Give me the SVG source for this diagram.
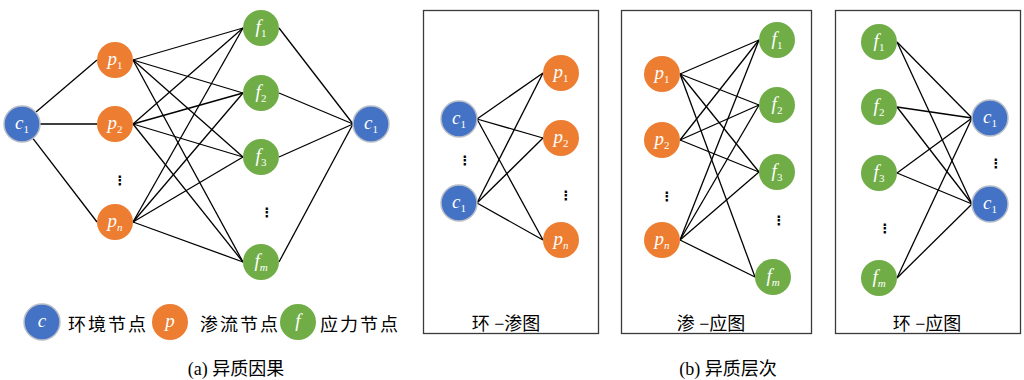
<svg xmlns="http://www.w3.org/2000/svg" width="1024" height="380" viewBox="0 0 1024 380">
<style>
.bg{fill:#ffffff}
.c{fill:#4472C4;stroke:#b9bec8;stroke-width:1.5}
.p{fill:#ED7D31}
.f{fill:#70AD47}
.lbl{font-family:"Liberation Serif",serif;font-style:italic;font-size:19px;fill:#ffffff;text-anchor:middle}
.sub{font-style:normal;font-size:11px}
.subi{font-style:italic;font-size:11px}
.edge line{stroke:#000000;stroke-width:1.3}
.box{fill:none;stroke:#3a3a3a;stroke-width:1.3}
.dots{font-family:"DejaVu Sans",sans-serif;font-size:13px;fill:#000000;text-anchor:middle;font-weight:bold}
.cjk{font-family:"Liberation Serif","Noto Sans CJK SC",serif;font-size:18px;fill:#000000}
.title{font-family:"Liberation Serif","Noto Sans CJK SC",serif;font-size:18px;fill:#000000;text-anchor:middle}
</style>
<rect class="bg" x="0" y="0" width="1024" height="380"/>

<!-- panel (a) connectors -->
<g id="edges-a" class="edge">
<line x1="35.7" y1="112.3" x2="97" y2="60"/>
<line x1="40" y1="124" x2="97" y2="124"/>
<line x1="32.9" y1="138.3" x2="97" y2="222"/>
<line x1="133" y1="60" x2="243" y2="28"/>
<line x1="133" y1="60" x2="243" y2="93"/>
<line x1="133" y1="60" x2="243" y2="157"/>
<line x1="133" y1="60" x2="243" y2="262"/>
<line x1="133" y1="124" x2="243" y2="28"/>
<line x1="133" y1="124" x2="243" y2="93"/>
<line x1="133" y1="124" x2="243" y2="157"/>
<line x1="133" y1="124" x2="243" y2="262"/>
<line x1="133" y1="222" x2="243" y2="28"/>
<line x1="133" y1="222" x2="243" y2="93"/>
<line x1="133" y1="222" x2="243" y2="157"/>
<line x1="133" y1="222" x2="243" y2="262"/>
<line x1="279" y1="28" x2="353" y2="124"/>
<line x1="279" y1="93" x2="353" y2="124"/>
<line x1="279" y1="157" x2="353" y2="124"/>
<line x1="279" y1="262" x2="353" y2="124"/>
</g>

<!-- panel (a) nodes -->
<g id="a-c1-left"><circle class="c" cx="22" cy="124" r="18"/><text class="lbl" x="22" y="129">c<tspan class="sub" dy="4">1</tspan></text></g>
<g id="a-p1"><circle class="p" cx="115" cy="60" r="18"/><text class="lbl" x="115" y="65">p<tspan class="sub" dy="4">1</tspan></text></g>
<g id="a-p2"><circle class="p" cx="115" cy="124" r="18"/><text class="lbl" x="115" y="129">p<tspan class="sub" dy="4">2</tspan></text></g>
<g id="a-pn"><circle class="p" cx="115" cy="222" r="18"/><text class="lbl" x="115" y="227">p<tspan class="subi" dy="4">n</tspan></text></g>
<g id="a-f1"><circle class="f" cx="261" cy="28" r="18"/><text class="lbl" x="261" y="33">f<tspan class="sub" dy="4">1</tspan></text></g>
<g id="a-f2"><circle class="f" cx="261" cy="93" r="18"/><text class="lbl" x="261" y="98">f<tspan class="sub" dy="4">2</tspan></text></g>
<g id="a-f3"><circle class="f" cx="261" cy="157" r="18"/><text class="lbl" x="261" y="162">f<tspan class="sub" dy="4">3</tspan></text></g>
<g id="a-fm"><circle class="f" cx="261" cy="262" r="18"/><text class="lbl" x="261" y="267">f<tspan class="subi" dy="4">m</tspan></text></g>
<g id="a-c1-right"><circle class="c" cx="371" cy="124" r="18"/><text class="lbl" x="371" y="129">c<tspan class="sub" dy="4">1</tspan></text></g>
<g id="a-dots"><text class="dots" x="120" y="185">⋮</text><text class="dots" x="267" y="217">⋮</text></g>

<!-- legend -->
<g id="legend">
<circle class="c" cx="42" cy="322" r="18"/><text class="lbl" x="42" y="327">c</text>
<text class="cjk" x="68" y="331" letter-spacing="2">环境节点</text>
<circle class="p" cx="170" cy="322" r="18"/><text class="lbl" x="170" y="327">p</text>
<text class="cjk" x="200" y="331" letter-spacing="2">渗流节点</text>
<circle class="f" cx="298" cy="322" r="18"/><text class="lbl" x="298" y="327">f</text>
<text class="cjk" x="320" y="331" letter-spacing="2">应力节点</text>
</g>
<text class="title" x="236" y="375">(a) 异质因果</text>

<!-- panel (b1) 环-渗图 -->
<g id="box1"><rect class="box" x="423.5" y="10.5" width="175" height="323"/><text class="title" x="506" y="330">环 −渗图</text></g>
<g id="edges-b1" class="edge">
<line x1="477" y1="119" x2="543" y2="73"/>
<line x1="477" y1="119" x2="543" y2="138"/>
<line x1="477" y1="119" x2="543" y2="240"/>
<line x1="477" y1="203" x2="543" y2="73"/>
<line x1="477" y1="203" x2="543" y2="138"/>
<line x1="477" y1="203" x2="543" y2="240"/>
</g>
<g id="b1-c1-top"><circle class="c" cx="459" cy="119" r="18"/><text class="lbl" x="459" y="124">c<tspan class="sub" dy="4">1</tspan></text></g>
<g id="b1-c1-bottom"><circle class="c" cx="459" cy="203" r="18"/><text class="lbl" x="459" y="208">c<tspan class="sub" dy="4">1</tspan></text></g>
<g id="b1-p1"><circle class="p" cx="561" cy="73" r="18"/><text class="lbl" x="561" y="78">p<tspan class="sub" dy="4">1</tspan></text></g>
<g id="b1-p2"><circle class="p" cx="561" cy="138" r="18"/><text class="lbl" x="561" y="143">p<tspan class="sub" dy="4">2</tspan></text></g>
<g id="b1-pn"><circle class="p" cx="561" cy="240" r="18"/><text class="lbl" x="561" y="245">p<tspan class="subi" dy="4">n</tspan></text></g>
<g id="b1-dots"><text class="dots" x="465" y="165">⋮</text><text class="dots" x="566" y="200">⋮</text></g>

<!-- panel (b2) 渗-应图 -->
<g id="box2"><rect class="box" x="621.5" y="10.5" width="190" height="323"/><text class="title" x="711" y="330">渗 −应图</text></g>
<g id="edges-b2" class="edge">
<line x1="680" y1="74" x2="759" y2="40"/>
<line x1="680" y1="74" x2="759" y2="105"/>
<line x1="680" y1="74" x2="759" y2="172"/>
<line x1="680" y1="74" x2="755" y2="277"/>
<line x1="680" y1="140" x2="759" y2="40"/>
<line x1="680" y1="140" x2="759" y2="105"/>
<line x1="680" y1="140" x2="759" y2="172"/>
<line x1="680" y1="240" x2="759" y2="40"/>
<line x1="680" y1="240" x2="759" y2="105"/>
<line x1="680" y1="240" x2="759" y2="172"/>
<line x1="680" y1="240" x2="755" y2="277"/>
</g>
<g id="b2-p1"><circle class="p" cx="662" cy="74" r="18"/><text class="lbl" x="662" y="79">p<tspan class="sub" dy="4">1</tspan></text></g>
<g id="b2-p2"><circle class="p" cx="662" cy="140" r="18"/><text class="lbl" x="662" y="145">p<tspan class="sub" dy="4">2</tspan></text></g>
<g id="b2-pn"><circle class="p" cx="662" cy="240" r="18"/><text class="lbl" x="662" y="245">p<tspan class="subi" dy="4">n</tspan></text></g>
<g id="b2-f1"><circle class="f" cx="777" cy="40" r="18"/><text class="lbl" x="777" y="45">f<tspan class="sub" dy="4">1</tspan></text></g>
<g id="b2-f2"><circle class="f" cx="777" cy="105" r="18"/><text class="lbl" x="777" y="110">f<tspan class="sub" dy="4">2</tspan></text></g>
<g id="b2-f3"><circle class="f" cx="777" cy="172" r="18"/><text class="lbl" x="777" y="177">f<tspan class="sub" dy="4">3</tspan></text></g>
<g id="b2-fm"><circle class="f" cx="773" cy="277" r="18"/><text class="lbl" x="773" y="282">f<tspan class="subi" dy="4">m</tspan></text></g>
<g id="b2-dots"><text class="dots" x="667" y="201">⋮</text><text class="dots" x="779" y="225">⋮</text></g>

<!-- panel (b3) 环-应图 -->
<g id="box3"><rect class="box" x="835.5" y="10.5" width="185" height="323"/><text class="title" x="927" y="330">环 −应图</text></g>
<g id="edges-b3" class="edge">
<line x1="897" y1="42" x2="972" y2="118"/>
<line x1="897" y1="42" x2="972" y2="204"/>
<line x1="897" y1="107" x2="972" y2="118"/>
<line x1="897" y1="107" x2="972" y2="204"/>
<line x1="897" y1="173" x2="972" y2="118"/>
<line x1="897" y1="173" x2="972" y2="204"/>
<line x1="897" y1="278" x2="972" y2="118"/>
<line x1="897" y1="278" x2="972" y2="204"/>
</g>
<g id="b3-f1"><circle class="f" cx="879" cy="42" r="18"/><text class="lbl" x="879" y="47">f<tspan class="sub" dy="4">1</tspan></text></g>
<g id="b3-f2"><circle class="f" cx="879" cy="107" r="18"/><text class="lbl" x="879" y="112">f<tspan class="sub" dy="4">2</tspan></text></g>
<g id="b3-f3"><circle class="f" cx="879" cy="173" r="18"/><text class="lbl" x="879" y="178">f<tspan class="sub" dy="4">3</tspan></text></g>
<g id="b3-fm"><circle class="f" cx="879" cy="278" r="18"/><text class="lbl" x="879" y="283">f<tspan class="subi" dy="4">m</tspan></text></g>
<g id="b3-c1-top"><circle class="c" cx="990" cy="118" r="18"/><text class="lbl" x="990" y="123">c<tspan class="sub" dy="4">1</tspan></text></g>
<g id="b3-c1-bottom"><circle class="c" cx="990" cy="204" r="18"/><text class="lbl" x="990" y="209">c<tspan class="sub" dy="4">1</tspan></text></g>
<g id="b3-dots"><text class="dots" x="885" y="233">⋮</text><text class="dots" x="996" y="168">⋮</text></g>

<text class="title" x="728" y="375">(b) 异质层次</text>
</svg>
